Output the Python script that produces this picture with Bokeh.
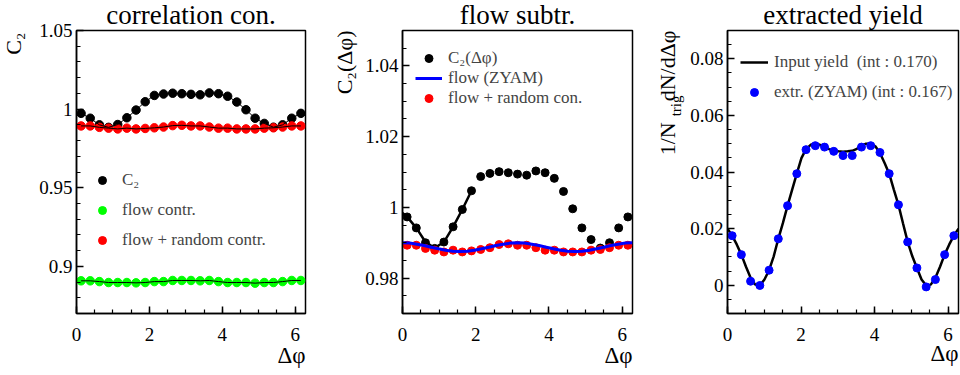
import numpy as np
from bokeh.plotting import figure
from bokeh.models import (Range1d, FixedTicker, PrintfTickFormatter, Title,
                          Legend, LegendItem)
from bokeh.layouts import row
from bokeh.embed import file_html
from bokeh.resources import INLINE

# ---------------- data ----------------
dphi = [0.126, 0.377, 0.628, 0.880, 1.131, 1.382, 1.634, 1.885, 2.136, 2.388,
        2.639, 2.890, 3.142, 3.393, 3.644, 3.896, 4.147, 4.398, 4.650, 4.901,
        5.152, 5.404, 5.655, 5.906, 6.157]

c2 = [0.9973, 0.9942, 0.9900, 0.9884, 0.9902, 0.9945, 0.9994, 1.0047, 1.0087,
      1.0096, 1.0101, 1.0098, 1.0094, 1.0091, 1.0103, 1.0098, 1.0082, 1.0045,
      0.9996, 0.9942, 0.9909, 0.9885, 0.9900, 0.9942, 0.9973]

flow_contr = [0.8908, 0.8908, 0.8903, 0.8897, 0.8897, 0.8897, 0.8895, 0.8897,
              0.8903, 0.8903, 0.8910, 0.8910, 0.8910, 0.8908, 0.8910, 0.8903,
              0.8897, 0.8897, 0.8897, 0.8893, 0.8897, 0.8897, 0.8903, 0.8910,
              0.8910]

flow_random = [0.9893, 0.9893, 0.9884, 0.9879, 0.9874, 0.9879, 0.9874, 0.9877,
               0.9881, 0.9886, 0.9895, 0.9897, 0.9893, 0.9893, 0.9886, 0.9879,
               0.9879, 0.9874, 0.9874, 0.9874, 0.9879, 0.9881, 0.9886, 0.9893,
               0.9893]

# fitted C2 curve drawn in the middle panel (near side only)
c2_fit_x = [0.0, 0.126, 0.377, 0.628, 0.880, 1.131, 1.382, 1.634, 1.885]
c2_fit_y = [0.9984, 0.9973, 0.9942, 0.9902, 0.9885, 0.9902, 0.9945, 0.9994, 1.0047]

# flow (ZYAM) curve
zyam_x = [0.0, 0.196, 0.393, 0.589, 0.785, 0.982, 1.178, 1.374, 1.571, 1.767,
          1.963, 2.160, 2.356, 2.553, 2.749, 2.945, 3.142, 3.338, 3.534, 3.731,
          3.927, 4.123, 4.320, 4.516, 4.712, 4.909, 5.105, 5.301, 5.498, 5.694,
          5.890, 6.087, 6.283]
zyam_y = [0.9900, 0.9899, 0.9896, 0.9892, 0.98875, 0.9883, 0.9879, 0.9876,
          0.9875, 0.9876, 0.9879, 0.9883, 0.98875, 0.9892, 0.9896, 0.9899,
          0.9900, 0.9899, 0.9896, 0.9892, 0.98875, 0.9883, 0.9879, 0.9876,
          0.9875, 0.9876, 0.9879, 0.9883, 0.98875, 0.9892, 0.9896, 0.9899,
          0.9900]

# input yield curve
yield_x = [0.0, 0.126, 0.251, 0.377, 0.503, 0.628, 0.754, 0.880, 1.005, 1.131,
           1.257, 1.382, 1.508, 1.634, 1.759, 1.885, 2.011, 2.136, 2.262, 2.388,
           2.513, 2.639, 2.765, 2.890, 3.016, 3.142, 3.267, 3.393, 3.519, 3.644,
           3.770, 3.896, 4.021, 4.147, 4.273, 4.398, 4.524, 4.650, 4.775, 4.901,
           5.027, 5.152, 5.278, 5.404, 5.529, 5.655, 5.781, 5.906, 6.032, 6.157,
           6.283]
yield_y = [0.0200, 0.0175, 0.0144, 0.0108, 0.0065, 0.0026, 0.0002, -0.0001,
           0.0020, 0.0053, 0.0102, 0.0164, 0.0220, 0.0281, 0.0338, 0.0394,
           0.0449, 0.0481, 0.0496, 0.0500, 0.0496, 0.0488, 0.0481, 0.0475,
           0.0473, 0.0472, 0.0473, 0.0475, 0.0482, 0.0493, 0.0500, 0.0500,
           0.0491, 0.0467, 0.0432, 0.0394, 0.0338, 0.0284, 0.0218, 0.0153,
           0.0102, 0.0061, 0.0020, -0.0001, 0.0002, 0.0026, 0.0065, 0.0108,
           0.0144, 0.0175, 0.0200]

# extracted yield points
extr = [0.0175, 0.0108, 0.0014, -0.0001, 0.0053, 0.0164, 0.0281, 0.0394,
        0.0479, 0.0493, 0.0488, 0.0473, 0.0458, 0.0458, 0.0488, 0.0493,
        0.0469, 0.0394, 0.0284, 0.0153, 0.0061, -0.0006, 0.0020, 0.0108,
        0.0175]

titles = ["correlation con.", "flow subtr.", "extracted yield"]
x_ticks = [0, 2, 4, 6]
y1_ticks = [0.9, 0.95, 1.0, 1.05]
y2_ticks = [0.98, 1.0, 1.02, 1.04]
y3_ticks = [0.0, 0.02, 0.04, 0.06, 0.08]

FONT = "Liberation Serif"
W, H = 320, 375
TOP, BOTTOM = 30, 62
NB = "\u00a0"


def make_fig(left, right, yr, yticks, ystep):
    p = figure(width=W, height=H, x_range=Range1d(0, 2 * np.pi),
               y_range=Range1d(*yr), output_backend="svg",
               toolbar_location=None, title=None,
               min_border_left=left, min_border_right=right,
               min_border_top=TOP, min_border_bottom=BOTTOM)
    p.grid.visible = False
    p.background_fill_color = "white"
    p.border_fill_color = "white"
    p.outline_line_color = "black"
    p.outline_line_width = 1.5
    xminor = [round(v, 3) for v in np.arange(0, 6.3, 0.5)]
    yminor = [round(v, 4) for v in np.arange(yr[0], yr[1] + 1e-9, ystep)]
    p.xaxis.ticker = FixedTicker(ticks=x_ticks, minor_ticks=xminor)
    p.yaxis.ticker = FixedTicker(ticks=yticks, minor_ticks=yminor)
    for ax in (p.xaxis[0], p.yaxis[0]):
        ax.formatter = PrintfTickFormatter(format="%g")
        ax.axis_line_width = 1.5
        ax.major_tick_line_width = 1.5
        ax.minor_tick_line_width = 1.2
        ax.major_tick_in = 7
        ax.major_tick_out = 0
        ax.minor_tick_in = 4
        ax.minor_tick_out = 0
        ax.major_label_text_font = FONT
        ax.major_label_text_font_size = "19px"
        ax.major_label_text_color = "black"
    p.xaxis.major_label_standoff = 14
    p.yaxis.major_label_standoff = 4
    return p


def title(p, text, side, size, align, valign, standoff, offset=0):
    p.add_layout(Title(text=text, align=align, vertical_align=valign,
                       standoff=standoff, offset=offset, text_font=FONT,
                       text_font_size=f"{size}px", text_font_style="normal",
                       text_color="black"), side)


def legend(p, items, loc, spacing, glyph_w, standoff):
    lg = Legend(items=items, location=loc, spacing=spacing, padding=0,
                margin=0, glyph_width=glyph_w, glyph_height=20,
                label_standoff=standoff, label_text_font=FONT,
                label_text_font_size="17px", label_height=20,
                background_fill_alpha=0, border_line_alpha=0)
    p.add_layout(lg, "center")


# ---------------- panel 1 ----------------
p1 = make_fig(76, 15, (0.87, 1.05), y1_ticks, 0.01)
# invisible axis label only widens the axis so the title sits further out
p1.yaxis.axis_label = NB
p1.yaxis.axis_label_standoff = 5
p1.yaxis.axis_label_text_font_size = "1px"
s_c2 = p1.scatter(dphi, c2, size=8.5, color="black")
s_fl = p1.scatter(dphi, flow_contr, size=8.5, color="#00ff00")
s_fr = p1.scatter(dphi, flow_random, size=8.5, color="#ff0000")
p1.line(dphi, c2, color="black", line_width=1)
p1.line(dphi, flow_contr, color="black", line_width=1)
p1.line(dphi, flow_random, color="black", line_width=1)
legend(p1, [LegendItem(label="C₂", renderers=[s_c2]),
            LegendItem(label="flow contr.", renderers=[s_fl]),
            LegendItem(label="flow + random contr.", renderers=[s_fr])],
       (16, 63), 10, 20, 10)
title(p1, titles[0], "above", 27, "center", "top", -2)
title(p1, "Δφ", "below", 23, "right", "top", -2)
title(p1, "C₂", "left", 22, "right", "top", 0, 2)

# ---------------- panel 2 ----------------
p2 = make_fig(82, 8, (0.97, 1.05), y2_ticks, 0.005)
s2_c2 = p2.scatter(dphi, c2, size=8, color="black")
p2.line(c2_fit_x, c2_fit_y, color="black", line_width=2.5)
s2_fr = p2.scatter(dphi, flow_random, size=8, color="#ff0000")
l2_z = p2.line(zyam_x, zyam_y, color="#0000ff", line_width=3)
legend(p2, [LegendItem(label="C₂(Δφ)", renderers=[s2_c2]),
            LegendItem(label="flow (ZYAM)", renderers=[l2_z]),
            LegendItem(label="flow + random con.", renderers=[s2_fr])],
       (13, 205), 0, 27, 6)
title(p2, titles[1], "above", 27, "center", "top", -2)
title(p2, "Δφ", "below", 23, "right", "top", -2)
title(p2, "C₂(Δφ)", "left", 22, "right", "top", 8)

# ---------------- panel 3 ----------------
p3 = make_fig(87, 2, (-0.01, 0.09), y3_ticks, 0.005)
l3_in = p3.line(yield_x, yield_y, color="black", line_width=2.5)
s3_ex = p3.scatter(dphi, extr, size=8, color="#0000ff")
legend(p3, [LegendItem(label=f"Input yield {NB}(int : 0.170)", renderers=[l3_in]),
            LegendItem(label="extr. (ZYAM) (int : 0.167)", renderers=[s3_ex])],
       (13, 211), 10, 28, 6)
title(p3, titles[2], "above", 27, "center", "top", -2)
title(p3, "Δφ", "below", 23, "right", "top", -6)
title(p3, "trig", "left", 15, "right", "top", 3, 65)
title(p3, "1/N" + NB * 3 + "\u2009" + "dN/dΔφ", "left", 22, "right", "bottom", -26)

layout = row(p1, p2, p3)
open("out.html", "w").write(file_html(layout, INLINE))
